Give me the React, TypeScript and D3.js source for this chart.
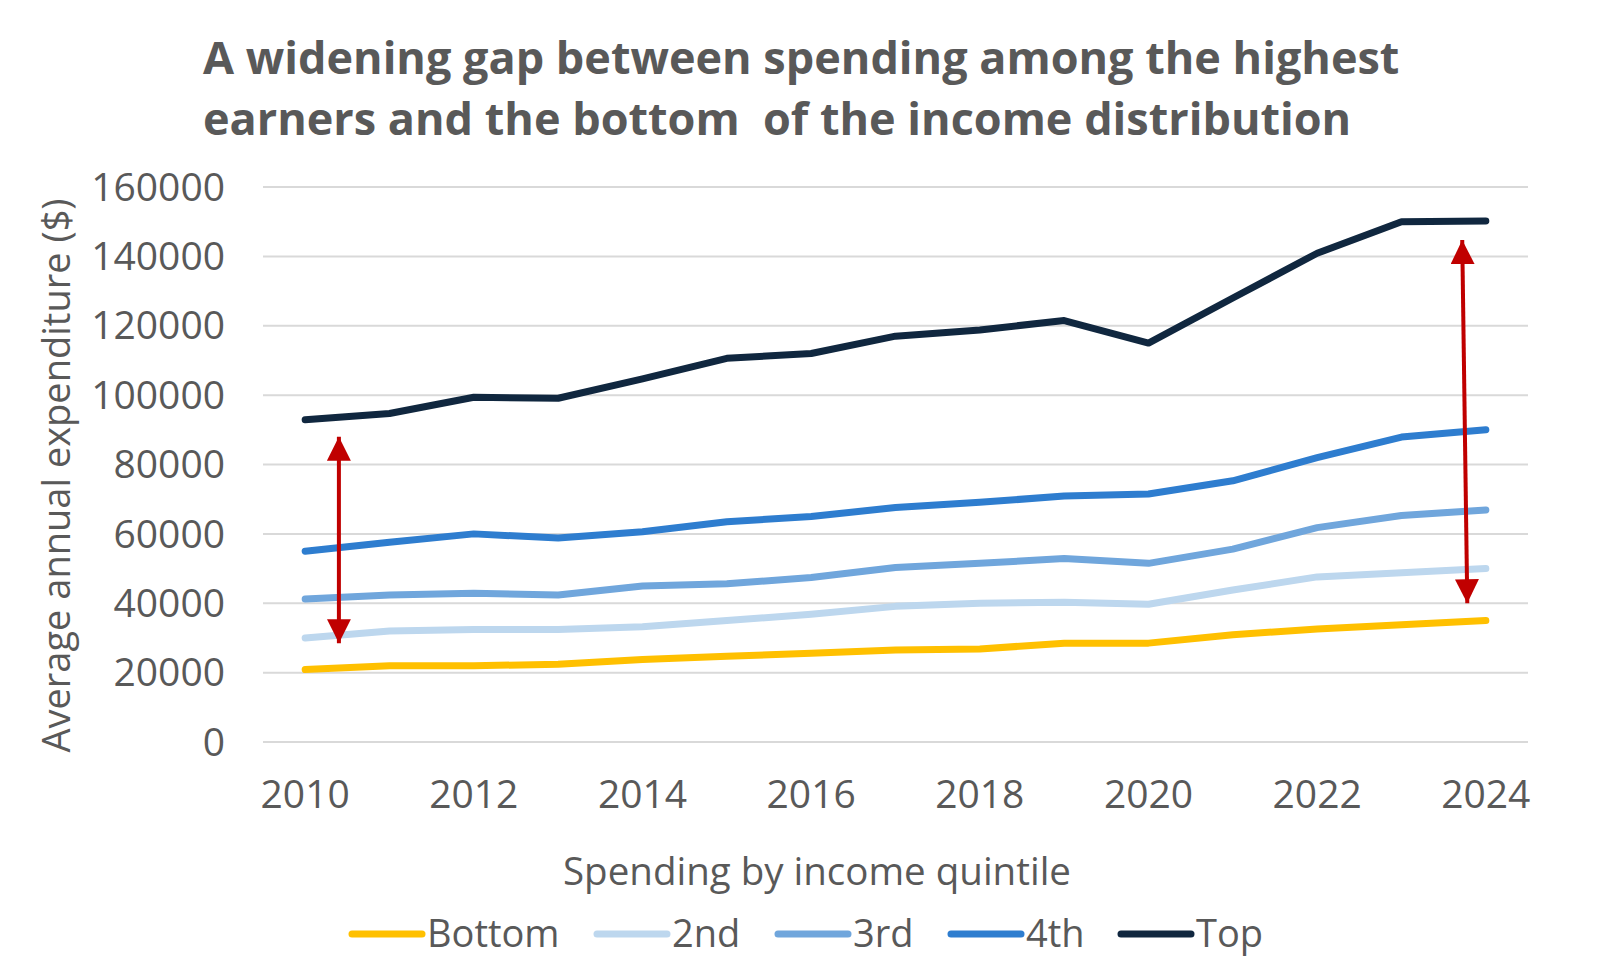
import * as d3 from "d3"

// values (average annual expenditure, $)
const years = [2010, 2011, 2012, 2013, 2014, 2015, 2016, 2017, 2018, 2019, 2020, 2021, 2022, 2023, 2024]
const bottom = [20900, 22000, 22000, 22400, 23800, 24700, 25600, 26500, 26800, 28500, 28500, 30900, 32600, 33800, 35000]
const second = [30000, 32000, 32400, 32400, 33200, 35000, 36800, 39100, 40000, 40300, 39700, 43800, 47600, 48800, 50000]
const third = [41200, 42400, 42900, 42400, 45000, 45600, 47400, 50300, 51500, 52900, 51500, 55600, 61800, 65300, 66900]
const fourth = [55000, 57600, 60000, 58800, 60600, 63500, 65000, 67600, 69100, 70900, 71500, 75300, 82000, 87900, 90000]
const top = [92900, 94700, 99400, 99100, 104700, 110600, 112000, 117000, 118800, 121500, 115000, 128000, 140900, 150000, 150200]

const seriesNames = ["Bottom", "2nd", "3rd", "4th", "Top"]
const seriesValues = [bottom, second, third, fourth, top]
const seriesColors = ["#FFC000", "#BDD7EE", "#70A6DC", "#2E7DCF", "#10273F"]

const yTicks = [0, 20000, 40000, 60000, 80000, 100000, 120000, 140000, 160000]

// gap annotations: [year position, value] for each end
const gapArrows = [
  { from: [2010.4, 28500], to: [2010.4, 88000] },
  { from: [2023.78, 40000], to: [2023.72, 144700] },
]

const W = 1600
const H = 973
const margin = { left: 263, right: 72, top: 187, bottom: 231 }
const font = "'Open Sans', 'Noto Sans', sans-serif"
const textColor = "#595959"

export default function App() {
  const x = d3
    .scalePoint<number>()
    .domain(years)
    .range([margin.left, W - margin.right])
    .padding(0.5)
  const xPos = d3
    .scaleLinear()
    .domain([years[0], years[years.length - 1]])
    .range([x(years[0])!, x(years[years.length - 1])!])
  const y = d3
    .scaleLinear()
    .domain([0, 160000])
    .range([H - margin.bottom, margin.top])

  const line = d3
    .line<number>()
    .x((_, i) => x(years[i])!)
    .y((d) => y(d))

  const legendX = [352, 597, 778, 951, 1121]

  return (
    <svg
      width={W}
      height={H}
      viewBox={`0 0 ${W} ${H}`}
      style={{ position: "absolute", left: 0, top: 0, background: "#fff" }}
      fontFamily={font}
    >
      <defs>
        <marker
          id="head"
          viewBox="0 0 10 10"
          refX="10"
          refY="5"
          markerWidth="6"
          markerHeight="6"
          markerUnits="strokeWidth"
          orient="auto-start-reverse"
        >
          <path d="M0,0 L10,5 L0,10 Z" fill="#C00000" />
        </marker>
      </defs>

      <text
        fill={textColor}
        fontWeight={700}
        fontSize={45}
        style={{ whiteSpace: "pre" }}
      >
        <tspan x={203} y={74}>
          A widening gap between spending among the highest
        </tspan>
        <tspan x={203} y={135}>
          {"earners and the bottom  of the income distribution"}
        </tspan>
      </text>

      {yTicks.map((t) => (
        <g key={t}>
          <line
            x1={margin.left}
            x2={W - margin.right}
            y1={y(t)}
            y2={y(t)}
            stroke="#D9D9D9"
            strokeWidth={2}
          />
          <text
            x={225}
            y={y(t)}
            dy="0.35em"
            textAnchor="end"
            fontSize={39}
            fill={textColor}
          >
            {t}
          </text>
        </g>
      ))}

      {years
        .filter((yr) => yr % 2 === 0)
        .map((yr) => (
          <text
            key={yr}
            x={x(yr)}
            y={808}
            textAnchor="middle"
            fontSize={39}
            fill={textColor}
          >
            {yr}
          </text>
        ))}

      <text
        transform={`translate(70, ${(y(0) + y(160000)) / 2 + 11}) rotate(-90)`}
        textAnchor="middle"
        fontSize={38}
        fill={textColor}
      >
        Average annual expenditure ($)
      </text>

      <text x={817} y={885} textAnchor="middle" fontSize={38.5} fill={textColor}>
        Spending by income quintile
      </text>

      {seriesValues.map((vals, i) => (
        <path
          key={seriesNames[i]}
          d={line(vals) ?? undefined}
          fill="none"
          stroke={seriesColors[i]}
          strokeWidth={7}
          strokeLinecap="round"
          strokeLinejoin="round"
        />
      ))}

      {gapArrows.map((a, i) => (
        <line
          key={i}
          x1={xPos(a.from[0])}
          y1={y(a.from[1])}
          x2={xPos(a.to[0])}
          y2={y(a.to[1])}
          stroke="#C00000"
          strokeWidth={4}
          markerStart="url(#head)"
          markerEnd="url(#head)"
        />
      ))}

      {seriesNames.map((name, i) => (
        <g key={name} transform={`translate(${legendX[i]}, 934)`}>
          <line
            x1={0}
            x2={70}
            stroke={seriesColors[i]}
            strokeWidth={7}
            strokeLinecap="round"
          />
          <text x={75} dy="0.35em" fontSize={38} fill={textColor}>
            {name}
          </text>
        </g>
      ))}
    </svg>
  )
}
